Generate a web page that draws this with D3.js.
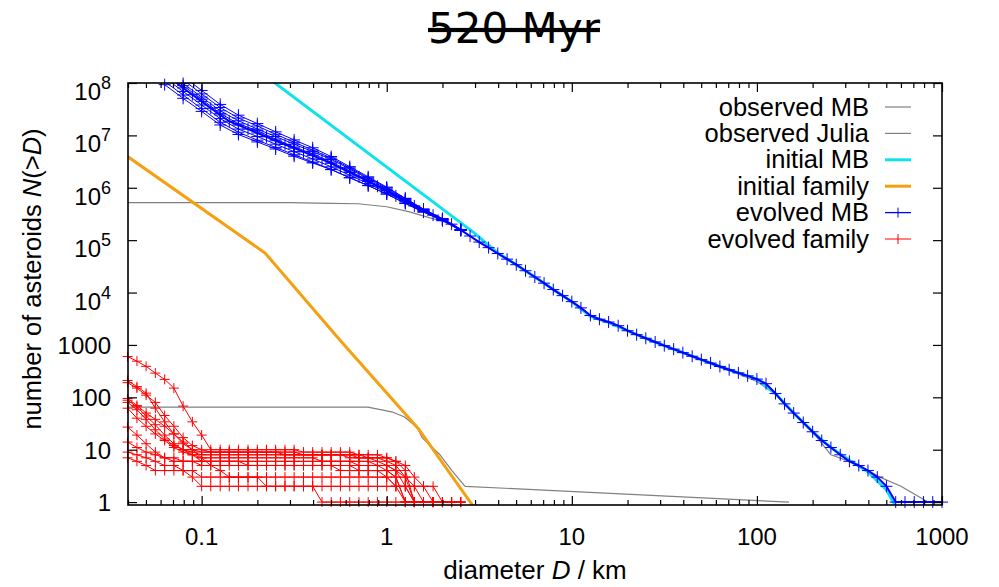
<!DOCTYPE html>
<html>
<head>
<meta charset="utf-8">
<script src="https://cdn.jsdelivr.net/npm/d3@7"></script>
<style>
  body { margin: 0; background: #fff; }
  text { font-family: "Liberation Sans", Arial, sans-serif; fill: #000; }
</style>
</head>
<body>
<svg id="chart" width="999" height="587"></svg>
<script>
// diameter grid, 0.05 dex steps from 0.04 to 1000 km
const dGrid = [0.0398, 0.0447, 0.0501, 0.0562, 0.0631, 0.0708, 0.0794, 0.0891,
  0.1, 0.112, 0.126, 0.141, 0.158, 0.178, 0.2, 0.224, 0.251, 0.282, 0.316, 0.355, 0.398, 0.447, 0.501, 0.562, 0.631, 0.708, 0.794, 0.891,
  1, 1.12, 1.26, 1.41, 1.58, 1.78, 2, 2.24, 2.51, 2.82, 3.16, 3.55, 3.98, 4.47, 5.01, 5.62, 6.31, 7.08, 7.94, 8.91,
  10, 11.2, 12.6, 14.1, 15.8, 17.8, 20, 22.4, 25.1, 28.2, 31.6, 35.5, 39.8, 44.7, 50.1, 56.2, 63.1, 70.8, 79.4, 89.1,
  100, 112, 126, 141, 158, 178, 200, 224, 251, 282, 316, 355, 398, 447, 501, 562, 631, 708, 794, 891, 1000];

// coarse grid (0.1 dex) for the extra evolved MB runs
const dCoarse = [0.0631, 0.0794, 0.1, 0.126, 0.158, 0.2, 0.251, 0.316, 0.398, 0.501, 0.631, 0.794, 1, 1.26, 1.58, 2, 2.51];

// observed main belt
const obsMbD = [0.04, 0.3, 0.5, 0.7, 1, 1.33, 1.71, 2.2, 2.51, 3.16, 3.98, 5.01, 6.31, 7.94, 10, 12.6, 15.8, 20, 25.1, 31.6,
  39.8, 50.1, 63.1, 79.4, 100, 126, 158, 200, 251, 316, 398, 462, 600, 840, 940];
const obsMbN = [5.2e5, 5.2e5, 5.05e5, 4.95e5, 4.34e5, 3.47e5, 2.67e5, 2.1e5, 1.55e5, 9.0e4, 5.5e4, 3.35e4, 1.95e4, 1.12e4, 6500, 3600, 2650, 1850, 1320, 980,
  700, 510, 370, 280, 200, 115, 50, 22, 8, 6, 4, 3, 2, 1, 1];

// observed Julia family
const obsJuliaD = [0.04, 0.79, 1.08, 1.25, 1.47, 1.55, 1.94, 2.25, 2.65, 149];
const obsJuliaN = [65, 65, 52, 42, 26, 17, 8, 4, 2, 1];

// initial main belt
const initMbD = [0.2, 2.92, 3.98, 5.01, 6.31, 7.94, 10, 12.6, 15.8, 20, 25.1, 31.6, 39.8, 50.1, 63.1, 79.4, 100, 126, 158, 200, 251, 316, 398, 501, 560];
const initMbN = [1.79e8, 1.44e5, 5.7e4, 3.4e4, 1.98e4, 1.14e4, 6700, 3500, 2700, 1870, 1340, 970, 713, 524, 388, 293, 223, 118, 50, 22, 11, 6.3, 3.8, 1.7, 0.85];

// initial family
const initFamD = [0.04, 0.22, 0.558, 1.475, 2.92];
const initFamN = [3.9e6, 5.7e4, 1240, 25.8, 0.85];

// evolved main belt, main run on dGrid starting at index 4 (0.0631 km)
const evoMbStart = 4;
const evoMbN = [1.48e8, 1.10e8, 8.05e7, 5.97e7, 4.45e7, 3.30e7, 2.45e7, 1.86e7, 1.57e7, 1.32e7, 1.11e7, 9.4e6, 7.9e6, 6.7e6, 5.7e6, 4.84e6,
  4.11e6, 3.49e6, 2.93e6, 2.39e6, 1.96e6, 1.61e6, 1.32e6, 1.07e6, 8.8e5, 7.0e5, 5.65e5, 4.5e5, 3.66e5, 3.0e5, 2.47e5, 2.02e5,
  1.57e5, 1.2e5, 9.2e4, 7.2e4, 5.57e4, 4.34e4, 3.4e4, 2.61e4, 1.98e4, 1.51e4, 1.14e4, 8730, 6700, 5100, 3650, 3100, 2740, 2330,
  1870, 1570, 1340, 1140, 970, 832, 713, 608, 524, 451, 388, 336, 293, 257, 223, 182, 118, 75, 50, 33, 22, 15, 11, 8, 6, 5, 4, 3, 2,
  1, 1, 1, 1, 1, 1];

// other evolved main belt runs on dCoarse
const evoMbRuns = [
  [2.45e8, 1.34e8, 7.2e7, 3.9e7, 2.43e7, 1.68e7, 1.17e7, 8.2e6, 5.8e6, 3.95e6, 2.53e6, 1.62e6, 1.03e6, 6.3e5, 3.93e5, 2.58e5, 1.6e5],
  [2.09e8, 1.15e8, 6.2e7, 3.4e7, 2.14e7, 1.51e7, 1.05e7, 7.4e6, 5.25e6, 3.7e6, 2.4e6, 1.55e6, 1.0e6, 6.2e5, 3.9e5, 2.57e5, 1.6e5],
  [1.78e8, 9.8e7, 5.4e7, 2.95e7, 1.9e7, 1.32e7, 9.5e6, 6.8e6, 4.9e6, 3.47e6, 2.29e6, 1.48e6, 9.5e5, 6.0e5, 3.85e5, 2.5e5, 1.58e5],
  [1.58e8, 8.9e7, 4.9e7, 2.63e7, 1.66e7, 1.23e7, 8.5e6, 6.0e6, 4.47e6, 3.1e6, 2.09e6, 1.38e6, 9.1e5, 5.8e5, 3.76e5, 2.48e5, 1.58e5],
  [1.26e8, 6.9e7, 3.8e7, 2.09e7, 1.32e7, 9.5e6, 6.8e6, 4.9e6, 3.55e6, 2.51e6, 1.74e6, 1.2e6, 8.1e5, 5.4e5, 3.55e5, 2.43e5, 1.55e5],
  [1.07e8, 5.9e7, 3.24e7, 1.78e7, 1.15e7, 8.1e6, 5.9e6, 4.27e6, 3.1e6, 2.24e6, 1.55e6, 1.1e6, 7.6e5, 5.1e5, 3.47e5, 2.4e5, 1.55e5],
  [9.3e7, 5.1e7, 2.87e7, 1.58e7, 1.04e7, 7.5e6, 5.5e6, 4.0e6, 2.98e6, 2.22e6, 1.56e6, 1.1e6, 7.6e5, 5.0e5, 3.42e5, 2.35e5, 1.53e5],
];

// evolved family runs on dGrid from index 0
const evoFamRuns = [
  [600, 490, 390, 290, 220, 150, 68, 34, 19, 10, 10, 10, 10, 10, 10, 10, 10, 10, 10, 9, 9, 9, 9, 9, 9, 8, 8, 8, 7, 6, 4, 1, 1, 1],
  [210, 160, 120, 62, 34, 20, 13, 10, 9, 9, 9, 9, 9, 9, 9, 9, 9, 8, 8, 8, 8, 8, 8, 8, 7, 7, 7, 7, 6, 5, 3, 2, 1, 1, 1, 1],
  [88, 66, 44, 30, 19, 13, 10, 9, 8, 8, 8, 8, 8, 8, 8, 8, 8, 8, 8, 8, 8, 8, 8, 8, 8, 8, 7, 7, 7, 6, 5, 3, 2, 1, 1, 1, 1],
  [27, 19, 13, 9, 7, 6, 6, 6, 6, 6, 6, 6, 6, 5, 5, 5, 5, 5, 5, 5, 5, 5, 5, 5, 5, 4, 4, 4, 4, 3, 1, 1, 1],
  [62, 40, 28, 20, 15, 11, 9, 8, 7, 7, 7, 7, 7, 7, 7, 7, 7, 7, 7, 7, 7, 6, 6, 6, 6, 6, 6, 5, 5, 4, 2, 1, 1, 1, 1, 1],
  [14, 11, 9, 8, 7, 7, 6, 6, 5, 5, 5, 5, 5, 5, 5, 5, 5, 5, 5, 5, 5, 5, 5, 4, 4, 4, 4, 4, 3, 2, 1, 1, 1, 1, 1, 1, 1],
  [7, 6, 5, 4, 4, 4, 4, 3, 2, 2, 2, 2, 2, 2, 2, 2, 2, 2, 2, 2, 2, 2, 2, 2, 2, 2, 2, 2, 2, 2, 2, 2, 2, 2, 1, 1],
  [95, 70, 50, 38, 28, 20, 14, 10, 7, 5, 4, 3, 3, 3, 3, 2, 2, 2, 2, 2, 2, 1, 1, 1, 1, 1, 1, 1, 1, 1, 1, 1, 1, 1, 1, 1, 1],
  [190, 150, 110, 80, 45, 28, 17, 12, 10, 9, 9, 9, 9, 9, 9, 9, 9, 9, 9, 8, 8, 8, 8, 8, 8, 7, 7, 6, 5, 4, 3, 1, 1, 1, 1],
  [80, 58, 38, 24, 16, 12, 10, 8, 6, 6, 6, 6, 6, 6, 6, 6, 6, 6, 6, 6, 6, 6, 6, 6, 6, 5, 5, 5, 4, 3, 1, 1, 1, 1, 1, 1, 1],
  [9, 8, 7, 6, 5, 5, 4, 4, 3, 3, 3, 3, 3, 3, 3, 3, 3, 3, 3, 3, 3, 3, 3, 3, 3, 3, 3, 3, 3, 2, 2, 1, 1, 1],
];

const xMajor = [0.1, 1, 10, 100, 1000];
const xTickLabels = ['0.1', '1', '10', '100', '1000'];
const yMajor = [1, 10, 100, 1000, 1e4, 1e5, 1e6, 1e7, 1e8];
const yTickLabels = [['1'], ['10'], ['100'], ['1000'], ['10', '4'], ['10', '5'], ['10', '6'], ['10', '7'], ['10', '8']];

const legendItems = [
  { label: 'observed MB', color: '#808080', width: 1.2, mark: false },
  { label: 'observed Julia', color: '#808080', width: 1.2, mark: false },
  { label: 'initial MB', color: '#10e2ec', width: 3, mark: false },
  { label: 'initial family', color: '#f5a010', width: 3, mark: false },
  { label: 'evolved MB', color: '#0000ff', width: 1.3, mark: true },
  { label: 'evolved family', color: '#ff0000', width: 1, mark: true },
];

const svg = d3.select('#chart');
const x = d3.scaleLog().domain([0.04, 1000]).range([128, 942]);
const y = d3.scaleLog().domain([0.88, 1e8]).range([505, 83]);

svg.append('defs').append('clipPath').attr('id', 'plot')
  .append('rect').attr('x', 128).attr('y', 83).attr('width', 814).attr('height', 422);

const zip = (ds, ns) => ns.map((n, i) => [ds[i], n]);
const line = d3.line().x(d => x(d[0])).y(d => y(d[1]));
const plotG = svg.append('g');

function drawSeries(pts, color, width, markSize) {
  plotG.append('path').datum(pts)
    .attr('clip-path', 'url(#plot)')
    .attr('fill', 'none').attr('stroke', color).attr('stroke-width', width)
    .attr('stroke-linejoin', 'round').attr('d', line);
  if (!markSize) return;
  const s = markSize;
  const inside = pts.filter(d => d[0] >= 0.0398 && d[0] <= 1000 && d[1] >= 0.88 && d[1] <= 1e8);
  plotG.append('g').selectAll('path').data(inside).enter().append('path')
    .attr('transform', d => `translate(${x(d[0])},${y(d[1])})`)
    .attr('d', `M-${s},0H${s}M0,-${s}V${s}`)
    .attr('stroke', color).attr('stroke-width', 1);
}

drawSeries(zip(obsMbD, obsMbN), '#808080', 1.2, 0);
drawSeries(zip(obsJuliaD, obsJuliaN), '#808080', 1.2, 0);
drawSeries(zip(initMbD, initMbN), '#10e2ec', 3, 0);
drawSeries(zip(initFamD, initFamN), '#f5a010', 3, 0);
for (const run of evoMbRuns) drawSeries(zip(dCoarse, run), '#0000ff', 1, 6);
drawSeries(zip(dGrid.slice(evoMbStart), evoMbN), '#0000ff', 2, 6);
for (const run of evoFamRuns) drawSeries(zip(dGrid, run), '#ff0000', 1, 5);

// frame and ticks
function ticks(axis, at, values, size) {
  svg.append('g').attr('transform', at)
    .call(axis.tickValues(values).tickSize(size).tickFormat(''))
    .call(g => g.select('.domain').remove())
    .selectAll('line').attr('stroke', '#000').attr('stroke-width', 1.2);
}
const xMinor = [];
for (const dec of [0.01, 0.1, 1, 10, 100]) {
  for (let k = 2; k <= 9; k++) if (k * dec >= 0.04) xMinor.push(k * dec);
}
ticks(d3.axisBottom(x), 'translate(0,505)', xMajor, -9);
ticks(d3.axisBottom(x), 'translate(0,505)', xMinor, -5);
ticks(d3.axisTop(x), 'translate(0,83)', xMajor, -9);
ticks(d3.axisTop(x), 'translate(0,83)', xMinor, -5);
ticks(d3.axisLeft(y), 'translate(128,0)', yMajor, -9);
ticks(d3.axisRight(y), 'translate(942,0)', yMajor, -9);

svg.append('rect').attr('x', 128).attr('y', 83).attr('width', 814).attr('height', 422)
  .attr('fill', 'none').attr('stroke', '#000').attr('stroke-width', 1.6);

// tick labels
svg.append('g').selectAll('text').data(xMajor).enter().append('text')
  .attr('x', d => x(d)).attr('y', 545).attr('text-anchor', 'middle')
  .style('font-size', '24px').text((d, i) => xTickLabels[i]);

const yLab = svg.append('g').selectAll('text').data(yMajor).enter().append('text')
  .attr('x', 111).attr('y', (d, i) => y(d) + (yTickLabels[i].length > 1 ? 17 : 9))
  .attr('text-anchor', 'end').style('font-size', '24px');
yLab.append('tspan').text((d, i) => yTickLabels[i][0]);
yLab.filter((d, i) => yTickLabels[i].length > 1).append('tspan')
  .attr('dy', -11).style('font-size', '18px').text(d => yTickLabels[yMajor.indexOf(d)][1]);

// axis titles
const xt = svg.append('text').attr('x', 535).attr('y', 579).attr('text-anchor', 'middle').style('font-size', '26px');
xt.append('tspan').text('diameter ');
xt.append('tspan').style('font-style', 'italic').text('D');
xt.append('tspan').text(' / km');

const yt = svg.append('text').attr('transform', 'translate(41,279) rotate(-90)')
  .attr('text-anchor', 'middle').style('font-size', '25.5px');
yt.append('tspan').text('number of asteroids ');
yt.append('tspan').style('font-style', 'italic').text('N');
yt.append('tspan').text('(>');
yt.append('tspan').style('font-style', 'italic').text('D');
yt.append('tspan').text(')');

// title
svg.append('text').attr('x', 514).attr('y', 43).attr('text-anchor', 'middle')
  .style('font-family', '"DejaVu Sans", sans-serif').style('font-size', '42px')
  .style('text-decoration', 'line-through').text('520 Myr');

// legend
const leg = svg.append('g').selectAll('g').data(legendItems).enter().append('g')
  .attr('transform', (d, i) => `translate(0,${107 + i * 26.4})`);
leg.append('text').attr('x', 869).attr('y', 8.5).attr('text-anchor', 'end')
  .style('font-size', '25.5px').text(d => d.label);
leg.append('line').attr('x1', 885).attr('x2', 911)
  .attr('stroke', d => d.color).attr('stroke-width', d => d.width);
leg.filter(d => d.mark).append('path').attr('d', 'M898,-5V5')
  .attr('stroke', d => d.color).attr('stroke-width', 1);
</script>
</body>
</html>
